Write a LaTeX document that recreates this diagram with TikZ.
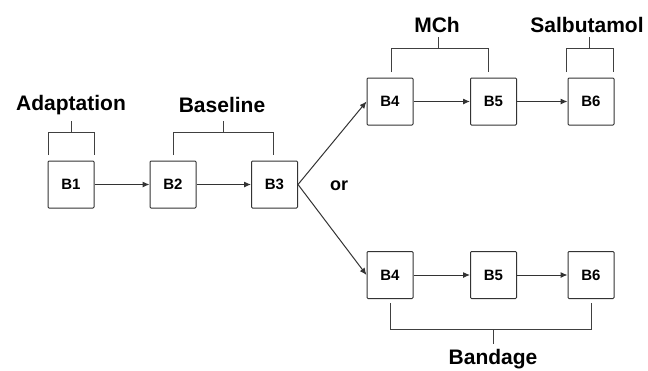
\documentclass[tikz,border=0pt]{standalone}
\usepackage{fontspec}
\setmainfont{Liberation Sans}
\usetikzlibrary{arrows.meta}
\begin{document}
\begin{tikzpicture}[x=1pt,y=-1pt,
  blk/.style={draw=black!80,line width=1pt,rounded corners=1pt,minimum width=46pt,minimum height=47pt,inner sep=0pt,font=\fontsize{15}{17}\selectfont\bfseries},
  lbl/.style={font=\fontsize{21}{24}\selectfont\bfseries,inner sep=0pt},
  flow/.style={draw=black!80,line width=1pt,-{Latex[length=7pt,width=6pt]}},
  brk/.style={draw=black!75,line width=1pt}]
\useasboundingbox (0,0) rectangle (648,370);
% first stage
\node[blk] (b1) at (71,184.5) {B1};
\node[blk] (b2) at (173,184.5) {B2};
\node[blk] (b3) at (274.5,184.5) {B3};
% upper branch
\node[blk] (u4) at (390,101.5) {B4};
\node[blk] (u5) at (493.5,101.5) {B5};
\node[blk] (u6) at (591,101.5) {B6};
% lower branch
\node[blk] (l4) at (390,275) {B4};
\node[blk] (l5) at (493.5,275) {B5};
\node[blk] (l6) at (591,275) {B6};
\node[font=\fontsize{18}{20}\selectfont\bfseries] (or) at (339,186) {or};
% connectors
\draw[flow] (b1) -- (b2);
\draw[flow] (b2) -- (b3);
\draw[flow] (b3.east) -- (u4.west);
\draw[flow] (b3.east) -- (l4.west);
\draw[flow] (u4) -- (u5);
\draw[flow] (u5) -- (u6);
\draw[flow] (l4) -- (l5);
\draw[flow] (l5) -- (l6);
% brackets and labels
\node[lbl] (tAd) at (71,105) {Adaptation};
\draw[brk] (48,155) -- (48,132) -- (94,132) -- (94,155) (71,132) -- (71,121);
\node[lbl] (tBa) at (222,105) {Baseline};
\draw[brk] (173,155) -- (173,132) -- (273,132) -- (273,155) (223,132) -- (223,121);
\node[lbl] (tMC) at (437,25) {MCh};
\draw[brk] (391,72) -- (391,48) -- (488,48) -- (488,72) (438,48) -- (438,37);
\node[lbl] (tSa) at (587,25) {Salbutamol};
\draw[brk] (566,72) -- (566,48) -- (613,48) -- (613,72) (589,48) -- (589,37);
\node[lbl] (tBd) at (493,359) {Bandage};
\draw[brk] (390,303) -- (390,329) -- (591,329) -- (591,303) (493,329) -- (493,344);
\end{tikzpicture}
\end{document}
